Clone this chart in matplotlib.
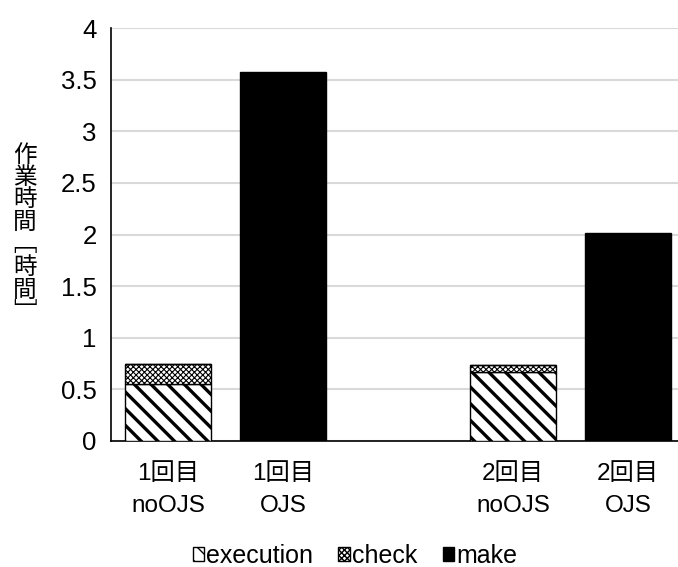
import matplotlib
matplotlib.use("Agg")
import matplotlib.pyplot as plt
import numpy as np

plt.rcParams['font.family'] = ['Liberation Sans', 'Noto Sans CJK JP']

categories = ["1回目\nnoOJS", "1回目\nOJS", "2回目\nnoOJS", "2回目\nOJS"]
positions = [0, 1, 3, 4]
execution = [0.55, 0.0, 0.67, 0.0]
check = [0.20, 0.0, 0.07, 0.0]
make = [0.0, 3.57, 0.0, 2.01]
yticks = [0, 0.5, 1, 1.5, 2, 2.5, 3, 3.5, 4]
ylabel_chars = ["作", "業", "時", "間", "\ufe47", "時", "間", "\ufe48"]


def main():
    W, H = 678, 567
    fig = plt.figure(figsize=(W / 100, H / 100), dpi=100)
    ax = fig.add_axes([110.5 / W, (H - 441) / H, 575 / W, 413 / H])

    exe = np.array(execution)
    chk = np.array(check)
    mk = np.array(make)
    width = 0.74

    with plt.rc_context({'hatch.linewidth': 2.4}):
        b1 = ax.bar(positions, exe, width, color="white", edgecolor="black",
                    hatch="\\\\", linewidth=1.0, label="execution", zorder=3)
    with plt.rc_context({'hatch.linewidth': 0.8}):
        b2 = ax.bar(positions, chk, width, bottom=exe, color="white", edgecolor="black",
                    hatch="xxxxxx", linewidth=1.0, label="check", zorder=3)
    b3 = ax.bar(positions, mk, width, bottom=exe + chk, color="black", edgecolor="black",
                linewidth=1.0, label="make", zorder=3)

    ax.set_xlim(-0.5, 4.5)
    ax.set_ylim(0, 4)
    ax.set_yticks(yticks)
    ax.set_yticklabels([f"{v:g}" for v in yticks], fontsize=18.5)
    ax.set_xticks(positions)
    ax.set_xticklabels(categories, fontsize=17.5, linespacing=1.6)
    ax.tick_params(axis="both", length=0)
    ax.tick_params(axis="x", pad=16)
    ax.tick_params(axis="y", pad=10)
    ax.grid(axis="y", color="#d9d9d9", linewidth=1.5, zorder=0)
    ax.set_axisbelow(True)
    for s in ["top", "right"]:
        ax.spines[s].set_visible(False)
    ax.spines["left"].set_linewidth(1.2)
    ax.spines["bottom"].set_linewidth(1.2)

    # 縦書きの軸ラベル
    y0 = 155
    for i, ch in enumerate(ylabel_chars):
        fig.text(25 / W, 1 - (y0 + i * 22.5) / H, ch, fontsize=17,
                 ha="center", va="center", family="Noto Sans CJK JP")

    fig.legend(handles=[b1, b2, b3], labels=["execution", "check", "make"],
               loc="center", bbox_to_anchor=(355 / W, 1 - 556 / H), ncol=3,
               frameon=False, fontsize=18, handlelength=0.45, handleheight=0.45,
               handletextpad=0.1, columnspacing=1.0, borderpad=0.1)

    fig.savefig("out.png", dpi=100)


if __name__ == "__main__":
    main()
